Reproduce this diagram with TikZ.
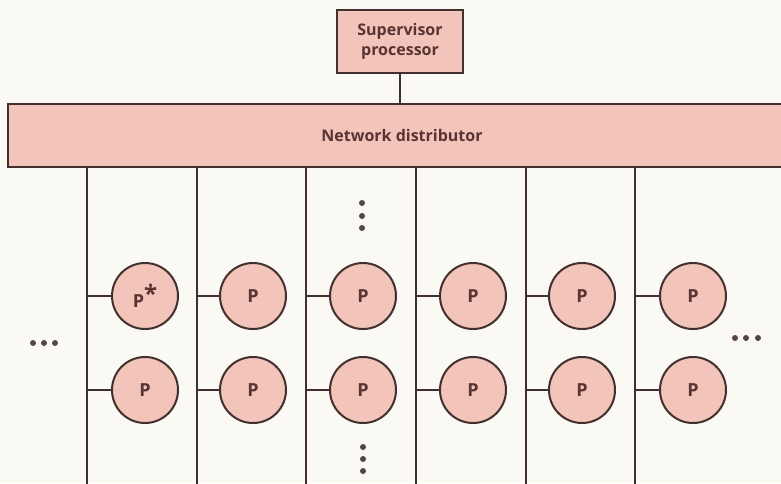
\documentclass[tikz,border=0pt]{standalone}
\usepackage{fontspec}
\setmainfont{Open Sans}
\definecolor{bg}{RGB}{251,249,244}
\definecolor{pinkfill}{RGB}{243,196,186}
\definecolor{edge}{RGB}{66,48,46}
\definecolor{txt}{RGB}{88,52,50}
\begin{document}
\begin{tikzpicture}[x=1pt,y=-1pt,
  boxstyle/.style={draw=edge,fill=pinkfill,line width=2pt,inner sep=0pt,font=\fontsize{16}{20}\selectfont\bfseries,text=txt,align=center},
  proc/.style={circle,draw=edge,fill=pinkfill,line width=2pt,minimum size=66pt,inner sep=0pt,font=\fontsize{18}{20}\selectfont\bfseries,text=txt},
  wire/.style={draw=edge,line width=1.5pt},
  dotmark/.style={circle,fill=edge!90,inner sep=0pt,minimum size=6pt}]
\fill[bg] (0,0) rectangle (781,483);
\useasboundingbox (0,0) rectangle (781,483);
% supervisor
\node[boxstyle,minimum width=126pt,minimum height=63pt] (sup) at (400,41.5) {Supervisor\\processor};
% network distributor bar (runs off right edge)
\fill[pinkfill] (8,104) rectangle (785,167);
\draw[edge,line width=2pt] (785,104) -- (8,104) -- (8,167) -- (785,167);
\coordinate (bartop) at (400,104);
\node[font=\fontsize{16}{20}\selectfont\bfseries,text=txt] (netlabel) at (402,135) {Network distributor};
\draw[wire] (sup.south) -- (bartop);
% buses and processors
\foreach \i/\bx in {1/87,2/197,3/306,4/416,5/526,6/635}{
  \coordinate (bt\i) at (\bx,167);
  \coordinate (bb\i) at (\bx,484);
  \draw[wire] (bt\i) -- (bb\i);
  \coordinate (ja\i) at (\bx,296);
  \coordinate (jb\i) at (\bx,390);
}
\node[proc] (p11) at (145,296) {P\raisebox{0.45ex}{\fontsize{24}{24}\selectfont\bfseries *}};
\node[proc] (p21) at (145,390) {P};
\foreach \i/\cx in {2/253,3/363,4/473,5/582,6/693}{
  \node[proc] (p1\i) at (\cx,296) {P};
  \node[proc] (p2\i) at (\cx,390) {P};
}
\foreach \i in {1,...,6}{
  \draw[wire] (ja\i) -- (p1\i.west);
  \draw[wire] (jb\i) -- (p2\i.west);
}
% ellipsis dots
\foreach \y [count=\k] in {203,216,228}{\node[dotmark] (vt\k) at (362,\y) {};}
\foreach \y [count=\k] in {447,459,471}{\node[dotmark] (vb\k) at (363,\y) {};}
\foreach \x [count=\k] in {33,44,55}{\node[dotmark] (hl\k) at (\x,343) {};}
\foreach \x [count=\k] in {735,746,758}{\node[dotmark] (hr\k) at (\x,338) {};}
\end{tikzpicture}
\end{document}
